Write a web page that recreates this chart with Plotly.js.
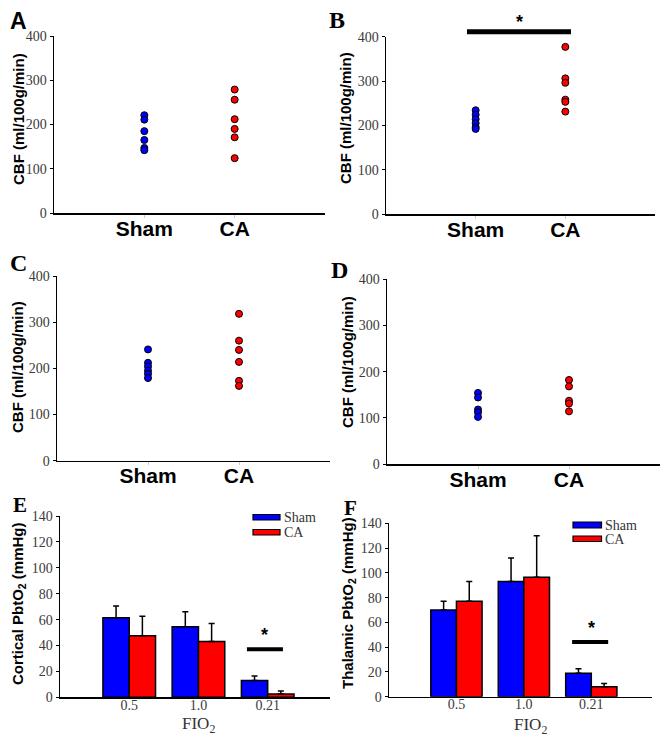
<!DOCTYPE html>
<html>
<head>
<meta charset="utf-8">
<script src="https://cdn.plot.ly/plotly-3.0.1.min.js"></script>
<style>html,body{margin:0;padding:0;background:#fff;}#chart{width:665px;height:736px;}</style>
</head>
<body>
<div id="chart"></div>
<script>
// ---------------- data ----------------
const groups = ['Sham', 'CA'];

const shamA = [221, 211, 185, 165, 147, 142];
const caA   = [279, 256, 212, 190, 171, 124];

const shamB = [234, 224, 214, 205, 196, 192];
const caB   = [377, 306, 296, 258, 253, 231];

const shamC = [241, 212, 204, 195, 188, 179];
const caC   = [318, 260, 240, 214, 173, 162];

const shamD = [154, 144, 118, 112, 102];
const caD   = [182, 168, 137, 131, 114];

const fio2 = ['0.5', '1.0', '0.21'];
const shamE    = [61.5, 54.5, 13];
const shamEerr = [9, 11.5, 3.5];
const caE      = [47.5, 43, 2.5];
const caEerr   = [15, 14, 2.3];

const shamF    = [70, 93, 19];
const shamFerr = [7, 19, 3.5];
const caF      = [77, 96.5, 8];
const caFerr   = [16, 33.5, 2.7];

const panelLetters = ['A', 'B', 'C', 'D', 'E', 'F'];
const cbfTitle = 'CBF (ml/100g/min)';
const eTitle = 'Cortical PbtO<sub>2</sub> (mmHg)';
const fTitle = 'Thalamic PbtO<sub>2</sub> (mmHg)';
const xBarTitle = 'FIO<sub>2</sub>';
const legendNames = ['Sham', 'CA'];

// ---------------- styles ----------------
const W = 665, H = 736;
const BLUE = '#0000ff', RED = '#ff0000';
const px = v => v / W;
const py = v => 1 - v / H;

function rep(name, n) { return Array(n).fill(name); }

function scatterTrace(vals, name, color, xa, ya) {
  return {
    type: 'scatter', mode: 'markers',
    x: rep(name, vals.length), y: vals,
    xaxis: xa, yaxis: ya, name: name, showlegend: false,
    marker: {color: color, size: 7, symbol: 'circle', line: {color: '#000', width: 1}},
    cliponaxis: false
  };
}

function barTrace(vals, errs, name, color, xa, ya) {
  return {
    type: 'bar', x: fio2, y: vals, name: name, xaxis: xa, yaxis: ya,
    showlegend: false,
    marker: {color: color, line: {color: '#000', width: 1.5}},
    error_y: {type: 'data', symmetric: false, array: errs, arrayminus: errs.map(() => 0),
              color: '#000', thickness: 1.5, width: 3}
  };
}

const traces = [
  scatterTrace(shamA, groups[0], BLUE, 'x', 'y'),
  scatterTrace(caA, groups[1], RED, 'x', 'y'),
  scatterTrace(shamB, groups[0], BLUE, 'x2', 'y2'),
  scatterTrace(caB, groups[1], RED, 'x2', 'y2'),
  scatterTrace(shamC, groups[0], BLUE, 'x3', 'y3'),
  scatterTrace(caC, groups[1], RED, 'x3', 'y3'),
  scatterTrace(shamD, groups[0], BLUE, 'x4', 'y4'),
  scatterTrace(caD, groups[1], RED, 'x4', 'y4'),
  barTrace(shamE, shamEerr, legendNames[0], BLUE, 'x5', 'y5'),
  barTrace(caE, caEerr, legendNames[1], RED, 'x5', 'y5'),
  barTrace(shamF, shamFerr, legendNames[0], BLUE, 'x6', 'y6'),
  barTrace(caF, caFerr, legendNames[1], RED, 'x6', 'y6')
];

const tickFontNum = {family: 'Liberation Serif, Times New Roman, serif', size: 14, color: '#3a3a3a'};

function catX(domain, anchor) {
  return {
    domain: domain, anchor: anchor, type: 'category', categoryarray: groups,
    range: [-1, 2], showline: true, linecolor: '#000', linewidth: 1.5,
    ticks: 'outside', ticklen: 3, tickcolor: '#cccccc', showgrid: false, zeroline: false,
    ticklabelstandoff: -7,
    tickfont: {family: 'Liberation Sans, Arial, sans-serif', size: 21, color: '#000', weight: 'bold'},
    fixedrange: true
  };
}
function barX(domain, anchor) {
  return {
    domain: domain, anchor: anchor, type: 'category', categoryarray: fio2,
    range: [-1, 2.9], showline: true, linecolor: '#000', linewidth: 1.5,
    ticks: '', showgrid: false, zeroline: false,
    ticklabelstandoff: -6,
    tickfont: {family: 'Liberation Serif, Times New Roman, serif', size: 14, color: '#3a3a3a'},
    fixedrange: true
  };
}
function valY(domain, anchor, max, step) {
  return {
    domain: domain, anchor: anchor, range: [0, max], tickmode: 'linear', tick0: 0, dtick: step,
    showline: true, linecolor: '#000', linewidth: 1.5, ticks: 'outside', ticklen: 3,
    tickcolor: '#000', showgrid: false, zeroline: false, tickfont: tickFontNum, fixedrange: true
  };
}

const layout = {
  width: W, height: H,
  margin: {l: 0, r: 0, t: 0, b: 0},
  paper_bgcolor: '#fff', plot_bgcolor: '#fff',
  showlegend: false,
  barmode: 'group', bargap: 0.24, bargroupgap: 0,
  xaxis:  catX([px(54), px(325)], 'y'),
  yaxis:  valY([py(213), py(36)], 'x', 400, 100),
  xaxis2: catX([px(386), px(655)], 'y2'),
  yaxis2: valY([py(214), py(36.7)], 'x2', 400, 100),
  xaxis3: catX([px(57), px(330)], 'y3'),
  yaxis3: valY([py(460.7), py(276)], 'x3', 400, 100),
  xaxis4: catX([px(387), px(660)], 'y4'),
  yaxis4: valY([py(464), py(279.3)], 'x4', 400, 100),
  xaxis5: barX([px(60), px(330)], 'y5'),
  yaxis5: valY([py(697.3), py(516)], 'x5', 140, 20),
  xaxis6: barX([px(389), px(652)], 'y6'),
  yaxis6: valY([py(696.7), py(523.3)], 'x6', 140, 20),
  shapes: [],
  annotations: []
};

function ann(text, x, y, font, extra) {
  return Object.assign({text: text, x: px(x), y: py(y), xref: 'paper', yref: 'paper',
    showarrow: false, xanchor: 'center', yanchor: 'middle', font: font}, extra || {});
}
const letterSans = {family: 'Liberation Sans, Arial, sans-serif', size: 23, color: '#000', weight: 'bold'};
const letterSerif = {family: 'Liberation Serif, Times New Roman, serif', size: 24, color: '#000', weight: 'bold'};
const titleFont = {family: 'Liberation Sans, Arial, sans-serif', size: 15, color: '#000', weight: 'bold'};
const serifBig = {family: 'Liberation Serif, Times New Roman, serif', size: 17, color: '#333'};
const legFont = {family: 'Liberation Serif, Times New Roman, serif', size: 14, color: '#333'};
const starFont = {family: 'Liberation Sans, Arial, sans-serif', size: 18, color: '#000', weight: 'bold'};

layout.annotations.push(
  ann(panelLetters[0], 18.5, 21, letterSans),
  ann(panelLetters[1], 337, 20, letterSerif),
  ann(panelLetters[2], 18, 263, letterSerif),
  ann(panelLetters[3], 339, 270, letterSerif),
  ann(panelLetters[4], 20, 505, Object.assign({}, letterSerif, {size: 21})),
  ann(panelLetters[5], 350, 508, Object.assign({}, letterSerif, {size: 21})),
  ann(cbfTitle, 18, 119, titleFont, {textangle: -90}),
  ann(cbfTitle, 345, 118, titleFont, {textangle: -90}),
  ann(cbfTitle, 17, 367, titleFont, {textangle: -90}),
  ann(cbfTitle, 347, 362, titleFont, {textangle: -90}),
  ann(eTitle, 18, 604, titleFont, {textangle: -90}),
  ann(fTitle, 348, 603, titleFont, {textangle: -90}),
  ann(xBarTitle, 198, 725, serifBig, {borderpad: 0}),
  ann(xBarTitle, 530, 726, serifBig, {borderpad: 0}),
  // significance stars
  ann('*', 519, 22, starFont),
  {text: '*', x: 1.96, y: 48, xref: 'x5', yref: 'y5', showarrow: false, font: starFont},
  {text: '*', x: 2.0, y: 55.5, xref: 'x6', yref: 'y6', showarrow: false, font: starFont},
  // legend texts
  ann(legendNames[0], 282, 517, legFont, {xanchor: 'left'}),
  ann(legendNames[1], 282, 532, legFont, {xanchor: 'left'}),
  ann(legendNames[0], 603, 525, legFont, {xanchor: 'left'}),
  ann(legendNames[1], 603, 539.5, legFont, {xanchor: 'left'})
);

function rect(x0, y0, x1, y1, color) {
  return {type: 'rect', xref: 'paper', yref: 'paper', x0: px(x0), x1: px(x1), y0: py(y1), y1: py(y0),
          fillcolor: color, line: {color: '#000', width: 1.2}};
}
layout.shapes.push(
  // significance bars
  {type: 'line', xref: 'paper', yref: 'paper', x0: px(467), x1: px(571), y0: py(31.7), y1: py(31.7),
   line: {color: '#000', width: 5}},
  {type: 'line', xref: 'x5', yref: 'y5', x0: 1.70, x1: 2.22, y0: 37.1, y1: 37.1, line: {color: '#000', width: 4}},
  {type: 'line', xref: 'x6', yref: 'y6', x0: 1.715, x1: 2.25, y0: 44.2, y1: 44.2, line: {color: '#000', width: 4}},
  // legend swatches
  rect(253, 514.5, 280, 520, BLUE),
  rect(253, 529.5, 280, 535, RED),
  rect(573, 522, 601.5, 528, BLUE),
  rect(573, 536, 601.5, 541.5, RED)
);

Plotly.newPlot('chart', traces, layout, {staticPlot: true, displayModeBar: false});
</script>
</body>
</html>
